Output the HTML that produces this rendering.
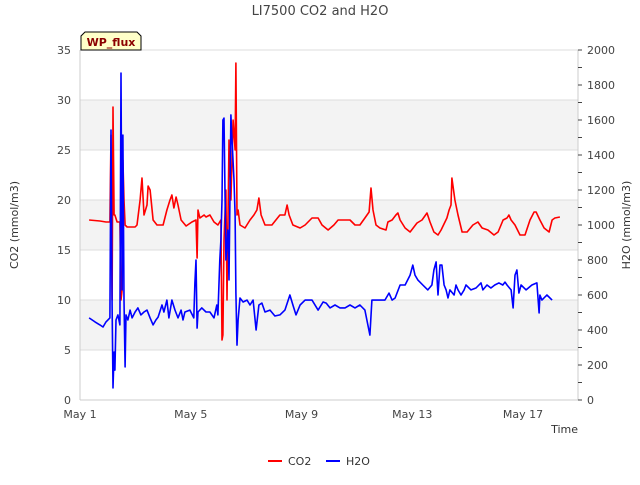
<!DOCTYPE html>
<html><head><meta charset="utf-8"><style>
body{margin:0;background:#fff;font-family:"Liberation Sans","DejaVu Sans",sans-serif}
svg text{font-family:"DejaVu Sans","Liberation Sans",sans-serif}
</style></head><body>
<svg id="c" width="640" height="480" viewBox="0 0 640 480"></svg>
<script>
const xTickLabels=["May 1","May 5","May 9","May 13","May 17"];
const xTickDays=[0,4,8,12,16];
const leftTicks=[0,5,10,15,20,25,30,35];
const rightTicks=[0,200,400,600,800,1000,1200,1400,1600,1800,2000];
const co2T=[0.33,0.72,0.94,1.08,1.12,1.16,1.19,1.23,1.26,1.34,1.44,1.48,1.52,1.55,1.59,1.63,1.70,1.99,2.06,2.17,2.24,2.31,2.42,2.46,2.53,2.64,2.78,3.00,3.14,3.25,3.32,3.39,3.47,3.54,3.65,3.83,4.04,4.19,4.23,4.26,4.33,4.48,4.55,4.69,4.84,4.98,5.09,5.13,5.16,5.20,5.27,5.31,5.38,5.45,5.53,5.60,5.63,5.67,5.71,5.78,5.96,6.14,6.28,6.39,6.46,6.54,6.68,6.93,7.22,7.40,7.48,7.55,7.69,7.95,8.13,8.38,8.60,8.74,8.96,9.17,9.32,9.57,9.75,9.93,10.11,10.29,10.44,10.51,10.58,10.69,10.83,11.05,11.12,11.27,11.41,11.48,11.56,11.74,11.92,12.17,12.35,12.53,12.64,12.78,12.93,13.04,13.25,13.33,13.40,13.43,13.54,13.65,13.80,13.98,14.19,14.37,14.52,14.73,14.95,15.10,15.28,15.42,15.49,15.57,15.71,15.89,16.07,16.25,16.40,16.47,16.61,16.76,16.94,17.05,17.15,17.33];
const co2V=[18.0,17.9,17.8,17.8,26.5,10,29.3,18.5,18.5,17.8,17.8,10,11,24,20,17.5,17.3,17.3,17.5,20,22.2,18.5,19.5,21.4,21,18,17.5,17.5,19,20,20.5,19.2,20.3,19.5,18,17.4,17.8,18,14.2,19,18.2,18.5,18.3,18.5,17.8,17.5,18,6,6.5,16,21,10,26,20,28,25,33.7,18.5,19,17.5,17.2,18,18.5,19,20.2,18.5,17.5,17.5,18.5,18.5,19.5,18.5,17.5,17.2,17.5,18.2,18.2,17.5,17,17.5,18,18,18,17.5,17.5,18.2,18.8,21.2,19,17.5,17.2,17,17.8,18,18.5,18.7,18,17.2,16.8,17.7,18,18.7,17.8,16.8,16.5,17,18.2,19,19.5,22.2,20,18.5,16.8,16.8,17.5,17.8,17.2,17,16.5,16.8,18,18.2,18.5,18,17.5,16.5,16.5,18,18.8,18.8,18,17.2,16.8,18,18.2,18.3];
const h2oT=[0.33,0.54,0.72,0.83,0.94,1.08,1.12,1.16,1.19,1.23,1.26,1.30,1.37,1.44,1.48,1.52,1.55,1.59,1.63,1.66,1.73,1.81,1.88,1.99,2.09,2.20,2.31,2.42,2.53,2.64,2.74,2.82,2.96,3.03,3.14,3.21,3.32,3.43,3.54,3.65,3.72,3.79,3.97,4.11,4.15,4.19,4.23,4.26,4.40,4.55,4.69,4.84,4.94,4.98,5.05,5.09,5.13,5.16,5.20,5.24,5.27,5.34,5.38,5.45,5.49,5.56,5.60,5.63,5.67,5.71,5.78,5.89,6.03,6.14,6.25,6.36,6.46,6.57,6.68,6.86,7.04,7.22,7.40,7.58,7.69,7.80,7.95,8.13,8.38,8.60,8.78,8.89,9.03,9.21,9.39,9.57,9.75,9.93,10.11,10.29,10.47,10.54,10.62,10.76,11.01,11.16,11.27,11.38,11.56,11.74,11.92,12.02,12.10,12.20,12.38,12.56,12.71,12.78,12.86,12.93,13.00,13.07,13.15,13.22,13.29,13.36,13.51,13.58,13.65,13.76,13.87,13.94,14.12,14.30,14.48,14.55,14.70,14.84,14.98,15.13,15.27,15.35,15.42,15.57,15.64,15.71,15.78,15.85,15.93,16.11,16.32,16.50,16.58,16.61,16.68,16.86,17.05,17.33];
const h2oV=[469,446,429,417,446,469,1543,543,69,274,171,457,486,429,1868,629,1514,571,189,486,457,514,469,503,526,486,503,514,469,429,457,474,543,503,571,469,571,514,469,514,457,503,514,469,669,800,411,503,526,503,503,469,543,486,800,914,1143,1600,1611,1143,800,971,686,1629,1486,1257,1057,611,314,457,583,560,571,543,571,400,543,554,503,514,480,486,514,600,543,486,543,571,571,514,560,554,526,543,526,526,543,526,543,514,371,571,571,571,571,611,571,583,657,657,714,771,714,686,657,629,657,743,789,600,771,771,657,629,583,629,600,657,629,600,629,657,629,640,669,629,657,640,657,669,657,674,657,629,526,714,743,611,657,629,657,669,497,600,571,600,571];
const NS="http://www.w3.org/2000/svg";
const svg=document.getElementById('c');
const L=80,R=578,T=50,B=400;
const xS=d=>L+d*27.69;
const yL=v=>B-(v/35)*(B-T);
const yR=v=>B-(v/2000)*(B-T);
function mk(tag,attrs,txt){const e=document.createElementNS(NS,tag);for(const k in attrs)e.setAttribute(k,attrs[k]);if(txt!==undefined)e.textContent=txt;svg.appendChild(e);return e;}
// bands
[[5,10],[15,20],[25,30]].forEach(b=>{const r=mk('rect',{x:L,y:yL(b[1]),width:R-L,height:yL(b[0])-yL(b[1]),fill:'#f3f3f3'});

});
leftTicks.forEach(v=>{const g=mk('line',{x1:L,x2:R,y1:yL(v),y2:yL(v),stroke:'#dcdcdc','stroke-width':1});


const t=mk('text',{x:L-9,y:yL(v)+4,'text-anchor':'end','font-size':11,fill:'#444'},v);

});
mk('line',{x1:L,x2:L,y1:T,y2:B,stroke:'#ccc'});
mk('line',{x1:R,x2:R,y1:T,y2:B,stroke:'#ccc'});
mk('line',{x1:L,x2:R,y1:B,y2:B,stroke:'#ccc'});
rightTicks.forEach(v=>{mk('line',{x1:R,x2:R+4,y1:yR(v),y2:yR(v),stroke:'#444'});
const t=mk('text',{x:R+9,y:yR(v)+4,'font-size':11,fill:'#444'},v);


if(v<2000)mk('line',{x1:R,x2:R+4,y1:yR(v+100),y2:yR(v+100),stroke:'#444'});});
xTickDays.forEach((d,i)=>{const t=mk('text',{x:xS(d),y:B+18,'text-anchor':'middle','font-size':11,fill:'#444'},xTickLabels[i]);

});
function line(ts,vs,ys,col,name){const p=ts.map((t,i)=>(i?'L':'M')+xS(t).toFixed(1)+','+ys(vs[i]).toFixed(1)).join('');
const e=mk('path',{d:p,fill:'none',stroke:col,'stroke-width':1.6,'stroke-linejoin':'round'});

}
line(co2T,co2V,yL,'#ff0000','co2-line');
line(h2oT,h2oV,yR,'#0000ff','h2o-line');
</script>
<svg width="640" height="480" style="position:absolute;left:0;top:0">
<text x="320" y="15" text-anchor="middle" font-size="13" fill="#444">LI7500 CO2 and H2O</text>
<text x="18" y="225" text-anchor="middle" font-size="11" fill="#333" transform="rotate(-90 18 225)">CO2 (mmol/m3)</text>
<text x="630" y="225" text-anchor="middle" font-size="11" fill="#333" transform="rotate(-90 630 225)">H2O (mmol/m3)</text>
<text x="578" y="433" text-anchor="end" font-size="11" fill="#333">Time</text>
<g><path d="M81,50 L81,36 L85,32 L137,32 L141,36 L141,50 Z" fill="#ffffc8" stroke="#000"/><text x="111" y="46" text-anchor="middle" font-size="11" font-weight="bold" fill="#8b0000">WP_flux</text></g>
<g><line x1="268" x2="282" y1="461" y2="461" stroke="#ff0000" stroke-width="2"/><text x="288" y="465" font-size="11" fill="#333">CO2</text></g>
<g><line x1="326" x2="340" y1="461" y2="461" stroke="#0000ff" stroke-width="2"/><text x="346" y="465" font-size="11" fill="#333">H2O</text></g>
</svg>
</body></html>
